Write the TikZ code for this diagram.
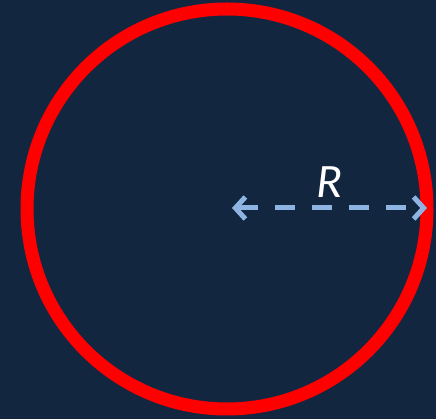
\documentclass[tikz,border=0pt]{standalone}
\usepackage{fontspec}
\setmainfont{Carlito}
\usetikzlibrary{arrows.meta}
\definecolor{bg}{RGB}{18,38,64}
\definecolor{ringred}{RGB}{255,0,0}
\definecolor{arrowblue}{RGB}{142,180,227}
\tikzset{
  ring/.style={circle, draw=ringred, line width=13pt, minimum size=400pt, inner sep=0pt, outer sep=0pt},
  radius arrow/.style={draw=arrowblue, line width=5pt, dash pattern=on 20pt off 17pt,
    {Straight Barb[length=10pt,width=22pt,line width=5pt]}-{Straight Barb[length=10pt,width=22pt,line width=5pt]}},
  label text/.style={text=white, font=\fontsize{48}{48}\selectfont\itshape, inner sep=0pt}
}
\begin{document}
\begin{tikzpicture}[x=1pt,y=1pt]
  \fill[bg] (0,0) rectangle (436,419);
  \useasboundingbox (0,0) rectangle (436,419);
  \node[ring] (c) at (227,210) {};
  \coordinate (start) at (232,211);
  \coordinate (end) at (427,211);
  \draw[radius arrow] (start) -- (end);
  \node[label text] (R) at (330,237) {R};
\end{tikzpicture}
\end{document}
